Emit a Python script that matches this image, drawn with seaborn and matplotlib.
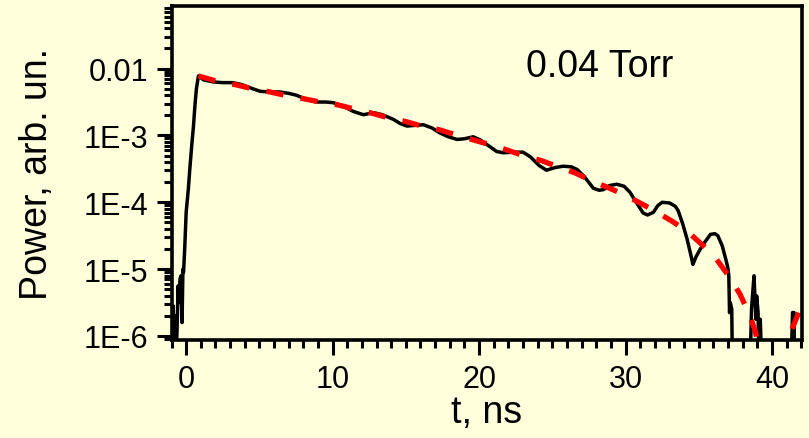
import numpy as np
import pandas as pd
import matplotlib
matplotlib.use("Agg")
import matplotlib.pyplot as plt
from matplotlib.ticker import FixedLocator, FixedFormatter, MultipleLocator, LogLocator, NullFormatter
import seaborn as sns

# Measured pulse: time (ns) and log10 of power (arb. units).
# Values below the axis floor mark points where the signal drops out.
signal_t = [-0.95, -0.88, -0.84, -0.78, -0.72, -0.62, -0.55, -0.50, -0.42, -0.36,
            -0.28, -0.22, -0.18, -0.10, 0.00, 0.15, 0.25, 0.40, 0.50, 0.60,
            0.70, 0.84, 1.20, 1.87, 2.50, 3.20, 3.80, 4.40, 5.05, 5.70,
            6.40, 7.00, 7.55, 8.20, 8.90, 9.50, 10.05, 10.70, 11.40, 12.10,
            12.80, 13.40, 14.15, 14.60, 15.07, 15.60, 16.20, 16.80, 17.30, 17.90,
            18.50, 19.00, 19.60, 20.10, 20.75, 21.20, 21.66, 22.30, 23.00, 23.50,
            24.10, 24.60, 25.20, 25.75, 26.30, 26.70, 27.20, 27.80, 28.20, 28.50,
            28.90, 29.40, 29.90, 30.30, 30.70, 31.20, 31.50, 31.90, 32.20, 32.50,
            33.00, 33.40, 33.60, 33.90, 34.20, 34.45, 34.60, 34.80, 35.10, 35.40,
            35.80, 36.10, 36.30, 36.60, 36.90, 37.00, 37.05, 37.10, 37.15, 37.25,
            37.30, 38.50, 38.60, 38.70, 38.77, 38.85, 38.90, 38.95, 39.05, 39.10,
            39.20, 39.30, 41.30, 41.40, 41.50, 41.55, 42.10]
signal_log = [-6.5, -5.55, -6.5, -5.7, -6.5, -5.9, -5.25, -5.5, -5.15, -5.1,
              -5.8, -5.0, -5.05, -4.7, -4.15, -3.8, -3.5, -3.1, -2.86, -2.55,
              -2.30, -2.11, -2.17, -2.20, -2.21, -2.21, -2.24, -2.29, -2.34, -2.35,
              -2.35, -2.37, -2.40, -2.46, -2.50, -2.50, -2.51, -2.56, -2.64, -2.69,
              -2.66, -2.69, -2.76, -2.82, -2.86, -2.85, -2.84, -2.89, -2.96, -3.02,
              -3.06, -3.05, -3.02, -3.07, -3.17, -3.24, -3.26, -3.25, -3.25, -3.32,
              -3.45, -3.52, -3.48, -3.46, -3.47, -3.51, -3.62, -3.79, -3.82, -3.81,
              -3.75, -3.73, -3.76, -3.85, -3.99, -4.16, -4.19, -4.15, -4.05, -4.00,
              -4.01, -4.06, -4.13, -4.32, -4.55, -4.78, -4.93, -4.82, -4.70, -4.60,
              -4.48, -4.47, -4.50, -4.65, -4.90, -5.00, -5.10, -5.65, -5.50, -5.60,
              -6.5, -6.5, -5.6, -5.3, -5.1, -5.5, -5.75, -5.4, -5.65, -6.5,
              -5.75, -6.5, -6.5, -5.65, -5.65, -6.5, -6.5]

# Exponential fit, two visible pieces on either side of the dropout.
fit_t = [0.84, 2.10, 3.35, 4.48, 5.73, 6.76, 8.00, 9.15, 10.30, 11.40,
         12.56, 13.70, 14.95, 16.10, 17.20, 18.40, 19.50, 20.60, 21.80, 23.00,
         24.30, 25.40, 26.55, 27.60, 28.80, 29.85, 30.90, 32.00, 33.15, 34.20,
         35.30, 36.20, 37.10, 37.80, 38.40, 38.85, 39.20,
         40.90, 41.10, 41.45, 42.10]
fit_log = [-2.11, -2.19, -2.24, -2.30, -2.35, -2.40, -2.45, -2.50, -2.54, -2.60,
           -2.66, -2.73, -2.79, -2.86, -2.91, -2.99, -3.06, -3.13, -3.21, -3.30,
           -3.38, -3.47, -3.56, -3.67, -3.78, -3.88, -4.00, -4.13, -4.28, -4.43,
           -4.65, -4.85, -5.12, -5.37, -5.65, -5.92, -6.30,
           -6.40, -6.05, -5.85, -5.50]
fit_piece = [0] * 37 + [1] * 4

ytick_values = [1e-6, 1e-5, 1e-4, 1e-3, 1e-2]
ytick_labels = ["1E-6", "1E-5", "1E-4", "1E-3", "0.01"]
xtick_values = [0, 10, 20, 30, 40]
annotation = "0.04 Torr"

signal = pd.DataFrame({"t": signal_t, "P": np.power(10.0, signal_log)})
fit = pd.DataFrame({"t": fit_t, "P": np.power(10.0, fit_log), "piece": fit_piece})

bg = "#FFFFDC"
sns.set_style("ticks")
plt.rcParams["font.family"] = ["Liberation Sans", "DejaVu Sans"]
plt.rcParams["axes.linewidth"] = 2.6
for key in ["text.color", "axes.labelcolor", "xtick.color", "ytick.color", "axes.edgecolor"]:
    plt.rcParams[key] = "black"

fig = plt.figure(figsize=(8.09, 4.39), dpi=100, facecolor=bg)
ax = fig.add_axes([0.2120, 0.2232, 0.7794, 0.7608])
ax.set_facecolor(bg)

sns.lineplot(data=signal, x="t", y="P", ax=ax, color="black", lw=2.5,
             sort=False, estimator=None, legend=False)
sns.lineplot(data=fit, x="t", y="P", units="piece", ax=ax, color="#FF0000",
             lw=3.8, sort=False, estimator=None, legend=False,
             ls=(0, (3.3, 3.3)), dash_capstyle="butt")

ax.set_yscale("log")
ax.set_xlim(-1.0, 42.05)
ax.set_ylim(8.7e-7, 0.0863)

ax.yaxis.set_major_locator(FixedLocator(ytick_values))
ax.yaxis.set_major_formatter(FixedFormatter(ytick_labels))
ax.yaxis.set_minor_locator(LogLocator(base=10, subs=np.arange(2, 10), numticks=20))
ax.yaxis.set_minor_formatter(NullFormatter())
ax.xaxis.set_major_locator(FixedLocator(xtick_values))
ax.xaxis.set_minor_locator(MultipleLocator(1))

ax.tick_params(which="major", direction="out", length=11, width=2.2,
               labelsize=22, pad=6, color="black", labelcolor="black")
ax.tick_params(which="minor", direction="out", length=6, width=2.2, color="black")

for side in ["top", "right", "left", "bottom"]:
    ax.spines[side].set_visible(True)
    ax.spines[side].set_color("black")

ax.set_xlabel("t, ns", fontsize=27, labelpad=0, color="black")
ax.set_ylabel("Power, arb. un.", fontsize=27, labelpad=20, color="black")

ax.text(0.679, 0.790, annotation, transform=ax.transAxes, fontsize=27,
        ha="center", va="baseline", color="black")

fig.savefig("out.png", dpi=100, facecolor=bg)
